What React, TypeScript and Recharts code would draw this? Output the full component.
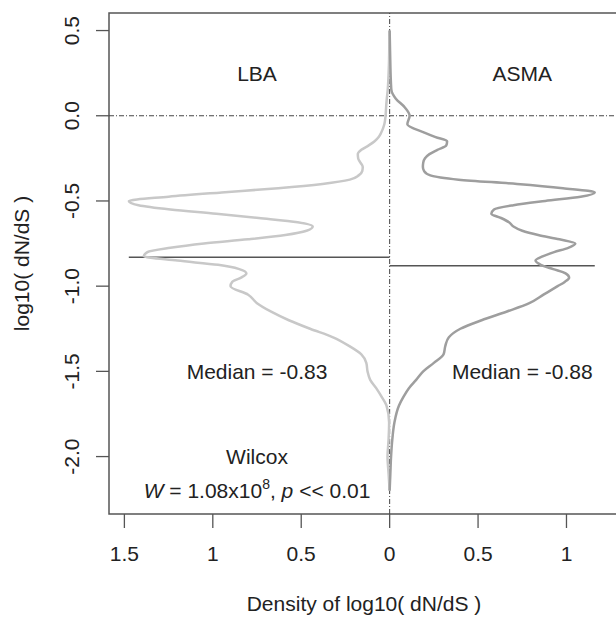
import {
  LineChart, Line, XAxis, YAxis, ReferenceLine, ReferenceArea, ReferenceDot, Label
} from 'recharts';

const FONT = '"Liberation Sans", Arial, sans-serif';
const FS = 21;

// log10(dN/dS) grid (vertical axis)
const LOG_DNDS = [
  0.5, 0.4, 0.3, 0.2, 0.15, 0.1, 0.05, 0, -0.05, -0.1, -0.125, -0.15, -0.175, -0.2,
  -0.225, -0.25, -0.275, -0.3, -0.325, -0.35, -0.375, -0.4, -0.425, -0.45, -0.475,
  -0.5, -0.525, -0.55, -0.575, -0.6, -0.625, -0.65, -0.675, -0.7, -0.725, -0.75,
  -0.775, -0.8, -0.825, -0.85, -0.875, -0.9, -0.925, -0.95, -0.975, -1.0, -1.05,
  -1.1, -1.15, -1.2, -1.25, -1.3, -1.35, -1.4, -1.45, -1.5, -1.55, -1.6, -1.65,
  -1.7, -1.8, -1.9, -2.0, -2.1, -2.2,
];

// density of LBA (drawn to the left)
const LBA_DENSITY = [
  0, 0.002, 0.004, 0.008, 0.011, 0.016, 0.02, 0.023, 0.03, 0.048, 0.062, 0.085, 0.12, 0.16,
  0.18, 0.178, 0.165, 0.152, 0.155, 0.175, 0.225, 0.38, 0.63, 0.95, 1.25,
  1.475, 1.42, 1.24, 0.98, 0.74, 0.52, 0.435, 0.47, 0.59, 0.8, 1.05,
  1.24, 1.37, 1.39, 1.2, 0.97, 0.85, 0.81, 0.84, 0.89, 0.9, 0.8,
  0.75, 0.67, 0.57, 0.45, 0.32, 0.23, 0.16, 0.132, 0.125, 0.11, 0.075, 0.045,
  0.018, 0.003, 0.006, 0.012, 0.006, 0,
];

// density of ASMA (drawn to the right)
const ASMA_DENSITY = [
  0, 0.002, 0.004, 0.007, 0.01, 0.035, 0.085, 0.113, 0.1, 0.2, 0.26, 0.325, 0.32, 0.27,
  0.225, 0.2, 0.19, 0.188, 0.195, 0.23, 0.39, 0.72, 0.98, 1.16, 1.08,
  0.88, 0.7, 0.59, 0.575, 0.63, 0.675, 0.7, 0.75, 0.84, 0.96, 1.05,
  1.01, 0.93, 0.865, 0.825, 0.855, 0.925, 0.995, 1.015, 0.99, 0.95, 0.87,
  0.79, 0.66, 0.52, 0.4, 0.335, 0.315, 0.305, 0.25, 0.19, 0.15, 0.108, 0.078,
  0.053, 0.027, 0.015, 0.008, 0.004, 0,
];

const MEDIANS = { lba: -0.83, asma: -0.88 };
const X_TICKS = [-1.5, -1, -0.5, 0, 0.5, 1];
const Y_TICKS = [-2, -1.5, -1, -0.5, 0, 0.5];
const X_DOMAIN: [number, number] = [-1.587, 1.297];
const Y_DOMAIN: [number, number] = [-2.337, 0.603];

const data = LOG_DNDS.map((y, i) => ({ y, lba: -LBA_DENSITY[i], asma: ASMA_DENSITY[i] }));
const lbaMax = Math.max(...LBA_DENSITY);
const asmaMax = Math.max(...ASMA_DENSITY);

function YTick({ x, y, payload }: any) {
  return (
    <text x={x} y={y} transform={`rotate(-90 ${x} ${y})`} textAnchor="middle" dy="0.35em"
      fontSize={FS} fontFamily={FONT} fill="#222">
      {payload.value.toFixed(1)}
    </text>
  );
}

function note(value: string) {
  return ({ viewBox }: any) => (
    <text x={viewBox.x} y={viewBox.y} textAnchor="middle" dy="0.35em" fontSize={FS}
      fontFamily={FONT} fill="#222">{value}</text>
  );
}

function WilcoxStat({ viewBox }: any) {
  return (
    <text x={viewBox.x} y={viewBox.y} textAnchor="middle" dy="0.35em" fontSize={FS}
      fontFamily={FONT} fill="#222">
      <tspan fontStyle="italic">W</tspan> = 1.08x10
      <tspan dy={-9} fontSize={14}>8</tspan>
      <tspan dy={9}>, </tspan>
      <tspan fontStyle="italic">p</tspan> {'<<'} 0.01
    </text>
  );
}

export default function App() {
  return (
    <div style={{ position: 'fixed', left: 0, top: 0, width: 616, height: 617, overflow: 'hidden', background: '#fff' }}>
      <LineChart width={630} height={617} data={data} layout="vertical"
        margin={{ top: 13, right: 11, bottom: 0, left: 0 }}>
        <XAxis type="number" dataKey="lba" domain={X_DOMAIN} ticks={X_TICKS} interval={0}
          allowDataOverflow height={103} axisLine={false} tickSize={14} tickMargin={18}
          tickLine={{ stroke: '#555', strokeWidth: 1.3 }}
          tick={{ fontSize: FS, fontFamily: FONT, fill: '#222' }}
          tickFormatter={(v: number) => String(Math.abs(v))}>
          <Label content={({ viewBox }: any) => (
            <text x={viewBox.x + viewBox.width / 2} y={604} textAnchor="middle" dy="0.35em"
              fontSize={FS} fontFamily={FONT} fill="#222">Density of log10( dN/dS )</text>
          )} />
        </XAxis>
        <YAxis type="number" dataKey="y" domain={Y_DOMAIN} ticks={Y_TICKS} interval={0} reversed
          allowDataOverflow width={109} axisLine={false} tickSize={13} tickMargin={24}
          tickLine={{ stroke: '#555', strokeWidth: 1.3 }} tick={<YTick />}>
          <Label content={({ viewBox }: any) => {
            const cy = viewBox.y + viewBox.height / 2;
            return (
              <text x={22} y={cy} transform={`rotate(-90 22 ${cy})`} textAnchor="middle" dy="0.35em"
                fontSize={FS} fontFamily={FONT} fill="#222">log10( dN/dS )</text>
            );
          }} />
        </YAxis>
        <ReferenceArea x1={X_DOMAIN[0]} x2={X_DOMAIN[1]} y1={Y_DOMAIN[0]} y2={Y_DOMAIN[1]}
          fill="none" stroke="#555" strokeWidth={1.5} ifOverflow="visible" />
        <ReferenceLine y={0} stroke="#444" strokeWidth={1} strokeDasharray="5 2 1 2" />
        <ReferenceLine x={0} stroke="#444" strokeWidth={1} strokeDasharray="5 2 1 2" />
        <ReferenceLine segment={[{ x: -lbaMax, y: MEDIANS.lba }, { x: 0, y: MEDIANS.lba }]}
          stroke="#555" strokeWidth={1.5} />
        <ReferenceLine segment={[{ x: 0, y: MEDIANS.asma }, { x: asmaMax, y: MEDIANS.asma }]}
          stroke="#555" strokeWidth={1.5} />
        <Line dataKey="lba" type="monotoneY" stroke="#c8c8c8" strokeWidth={2.5} dot={false}
          isAnimationActive={false} />
        <Line dataKey="asma" type="monotoneY" stroke="#9e9e9e" strokeWidth={2.5} dot={false}
          isAnimationActive={false} />
        <ReferenceDot x={-0.75} y={0.25} r={0} label={note('LBA')} />
        <ReferenceDot x={0.75} y={0.25} r={0} label={note('ASMA')} />
        <ReferenceDot x={-0.75} y={-1.5} r={0} label={note(`Median = ${MEDIANS.lba.toFixed(2)}`)} />
        <ReferenceDot x={0.75} y={-1.5} r={0} label={note(`Median = ${MEDIANS.asma.toFixed(2)}`)} />
        <ReferenceDot x={-0.75} y={-2.0} r={0} label={note('Wilcox')} />
        <ReferenceDot x={-0.75} y={-2.2} r={0} label={<WilcoxStat />} />
      </LineChart>
    </div>
  );
}
